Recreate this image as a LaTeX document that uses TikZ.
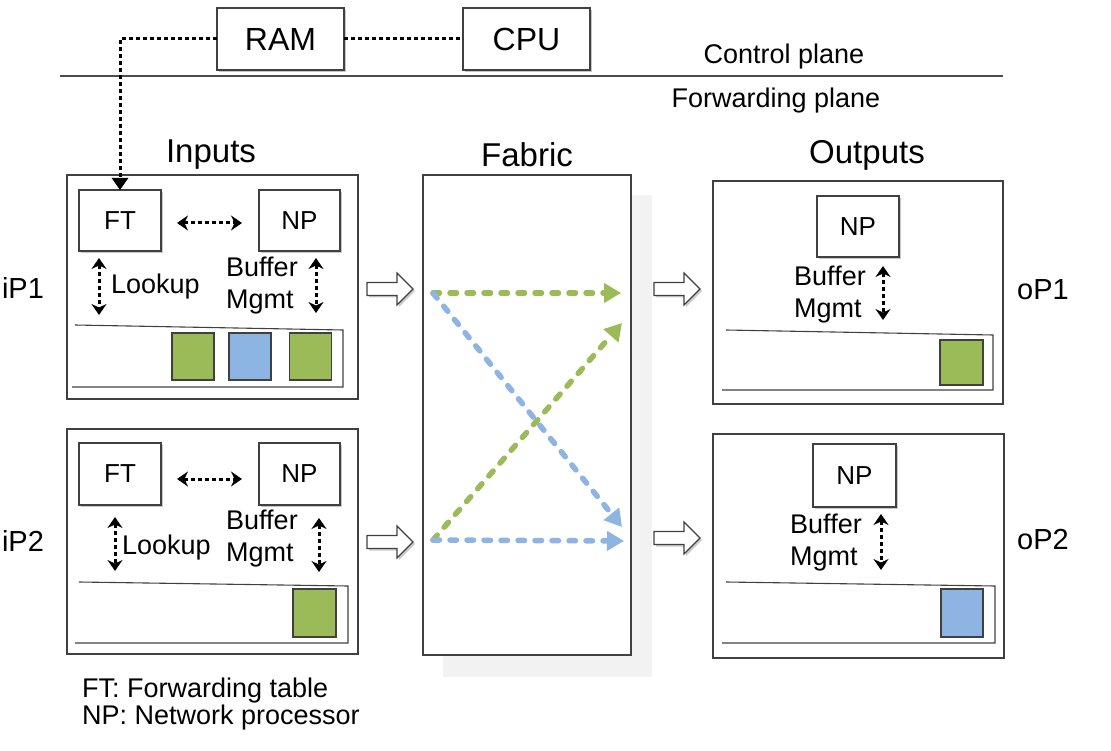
\documentclass[tikz,border=0pt]{standalone}
\usepackage{fontspec}
\setmainfont{Liberation Sans}
\usetikzlibrary{arrows.meta,calc,shadows}
\definecolor{boxline}{HTML}{404040}
\definecolor{pgreen}{HTML}{9BBB59}
\definecolor{pblue}{HTML}{8DB4E2}
\definecolor{fshadow}{HTML}{F2F2F2}
\begin{document}
\begin{tikzpicture}[x=1pt,y=-1pt,
  box/.style={draw=boxline,line width=1.2pt,fill=white,inner sep=0pt,outer sep=0pt},
  sbox/.style={box,drop shadow={shadow xshift=2pt,shadow yshift=-2pt,fill=black!22,opacity=1}},
  bigbox/.style={draw=boxline,line width=1.2pt,inner sep=0pt,outer sep=0pt},
  dotline/.style={black,line width=3pt,dash pattern=on 4pt off 3pt},
  dotarr/.style={dotline,{Stealth[length=11pt,width=15pt]}-{Stealth[length=11pt,width=15pt]}},
  fabarr/.style={line width=5.5pt,line cap=round,dash pattern=on 6.5pt off 10.5pt,-{Triangle[length=17pt,width=19pt]}},
  queue/.style={draw=boxline,line width=1.1pt},
  packet/.style={draw=boxline,line width=1.2pt,inner sep=0pt,outer sep=0pt},
  lbl/.style={inner sep=0pt,font=\fontsize{27}{32}\selectfont},
  boxtxt/.style={font=\fontsize{26}{30}\selectfont},
  cputxt/.style={font=\fontsize{32}{36}\selectfont},
  title/.style={inner sep=0pt,font=\fontsize{33}{38}\selectfont},
  port/.style={inner sep=0pt,font=\fontsize{29}{34}\selectfont},
  blockarrow/.pic={
    \fill[black!20] (2,-4.5) -- (32,-4.5) -- (32,-14) -- (48,2) -- (32,18) -- (32,8.5) -- (2,8.5) -- cycle;
    \draw[boxline,line width=1.2pt,fill=white] (0,-6.5) -- (30,-6.5) -- (30,-16) -- (46,0) -- (30,16) -- (30,6.5) -- (0,6.5) -- cycle;
  }
]
\useasboundingbox (0,0) rectangle (1111,751);

% control plane
\node[sbox,cputxt,minimum width=127pt,minimum height=62pt] (ram) at (280.5,39) {RAM};
\node[sbox,cputxt,minimum width=127pt,minimum height=62pt] (cpu) at (526.5,39) {CPU};
\coordinate (pl) at (60,76);
\coordinate (pr) at (1003,76);
\draw[black!70,line width=1.5pt] (pl) -- (pr);
\node[lbl] (ctrl) at (784,57) {Control plane};
\node[lbl] (fwd) at (776,101) {Forwarding plane};

% titles
\node[title] (tin) at (211,155) {Inputs};
\node[title] (tfab) at (527,155) {Fabric};
\node[title] (tout) at (867,155) {Outputs};

% fabric
\fill[fshadow] (443,195) rectangle (652,677);
\node[bigbox,fill=white,minimum width=208pt,minimum height=480pt] (fab) at (527,415) {};

% input 1
\node[bigbox,minimum width=291pt,minimum height=224pt] (in1) at (212.5,287) {};
\node[sbox,boxtxt,minimum width=82pt,minimum height=61pt] (ft1) at (120,220.5) {FT};
\node[sbox,boxtxt,minimum width=81pt,minimum height=61pt] (np1) at (299.5,220.5) {NP};
\draw[dotarr] ($(ft1.east)+(16,2.5)$) -- ($(np1.west)+(-17,2.5)$);
\draw[dotarr] ($(ft1.south)+(-21,7)$) -- ($(ft1.south)+(-21,64)$);
\node[lbl,anchor=west] (lk1) at (111,287) {Lookup};
\node[lbl,anchor=west,align=left] (bm1) at (226,286) {Buffer\\Mgmt};
\draw[dotarr] ($(np1.south)+(16.5,7)$) -- ($(np1.south)+(16.5,62)$);
\draw[queue] (75,325) -- (343,330) -- (343,387) -- (72,387);
\node[packet,fill=pgreen,minimum width=42pt,minimum height=47pt] (p11) at (193,356.5) {};
\node[packet,fill=pblue,minimum width=42pt,minimum height=47pt] (p12) at (250,356.5) {};
\node[packet,fill=pgreen,minimum width=42pt,minimum height=47pt] (p13) at (310.5,356.5) {};

% input 2
\node[bigbox,minimum width=291pt,minimum height=225pt] (in2) at (212.5,541.5) {};
\node[sbox,boxtxt,minimum width=82pt,minimum height=62pt] (ft2) at (120,474) {FT};
\node[sbox,boxtxt,minimum width=81pt,minimum height=62pt] (np2) at (299.5,474) {NP};
\draw[dotarr] ($(ft2.east)+(16,5)$) -- ($(np2.west)+(-17,5)$);
\draw[dotarr] ($(ft2.south)+(-5,12)$) -- ($(ft2.south)+(-5,66)$);
\node[lbl,anchor=west] (lk2) at (122,548) {Lookup};
\node[lbl,anchor=west,align=left] (bm2) at (226,539) {Buffer\\Mgmt};
\draw[dotarr] ($(np2.south)+(19.5,13)$) -- ($(np2.south)+(19.5,67)$);
\draw[queue] (79,582) -- (348,586) -- (348,643) -- (75,643);
\node[packet,fill=pgreen,minimum width=43pt,minimum height=48pt] (p21) at (314.5,613) {};

% output 1
\node[bigbox,minimum width=290pt,minimum height=223pt] (out1) at (858,292.5) {};
\node[sbox,boxtxt,minimum width=82pt,minimum height=61pt] (onp1) at (858,226.5) {NP};
\node[lbl,anchor=west,align=left] (obm1) at (794,294.5) {Buffer\\Mgmt};
\draw[dotarr] ($(onp1.south)+(25,9)$) -- ($(onp1.south)+(25,63)$);
\draw[queue] (726,330) -- (993,335) -- (993,390) -- (722,390);
\node[packet,fill=pgreen,minimum width=43pt,minimum height=45pt] (op1) at (961.5,362.5) {};

% output 2
\node[bigbox,minimum width=291pt,minimum height=224pt] (out2) at (858.5,546) {};
\node[sbox,boxtxt,minimum width=83pt,minimum height=63pt] (onp2) at (854.5,475.5) {NP};
\node[lbl,anchor=west,align=left] (obm2) at (790,543) {Buffer\\Mgmt};
\draw[dotarr] ($(onp2.south)+(26.5,7)$) -- ($(onp2.south)+(26.5,63)$);
\draw[queue] (726,582) -- (995,586) -- (995,643) -- (722,643);
\node[packet,fill=pblue,minimum width=42pt,minimum height=48pt] (op2) at (962,613) {};

% control links
\draw[dotline] (ram.east) -- (cpu.west);
\draw[dotline,-{Triangle[length=12pt,width=16pt]}] (ram.west) -| (ft1.north);

% block arrows
\pic at (367,289) {blockarrow};
\pic at (367,542) {blockarrow};
\pic at (654,289) {blockarrow};
\pic at (654,538) {blockarrow};

% fabric paths
\coordinate (s1) at (433,293);
\coordinate (s2) at (433,540);
\coordinate (t1a) at (621,293);
\coordinate (t1b) at (622,323);
\coordinate (t2a) at (622,527);
\coordinate (t2b) at (624,541);
\draw[fabarr,pgreen] (s1) -- (t1a);
\draw[fabarr,pblue] (s1) -- (t2a);
\draw[fabarr,pgreen] (s2) -- (t1b);
\draw[fabarr,pblue] (s2) -- (t2b);

% port labels
\node[port] (ip1) at (23,288) {iP1};
\node[port] (ip2) at (23,541) {iP2};
\node[port] (op1l) at (1043,290) {oP1};
\node[port] (op2l) at (1043,540) {oP2};

% legend
\node[inner sep=0pt,anchor=west,align=left,font=\fontsize{27}{27}\selectfont] (leg) at (82,704) {FT: Forwarding table\\NP: Network processor};
\end{tikzpicture}
\end{document}
